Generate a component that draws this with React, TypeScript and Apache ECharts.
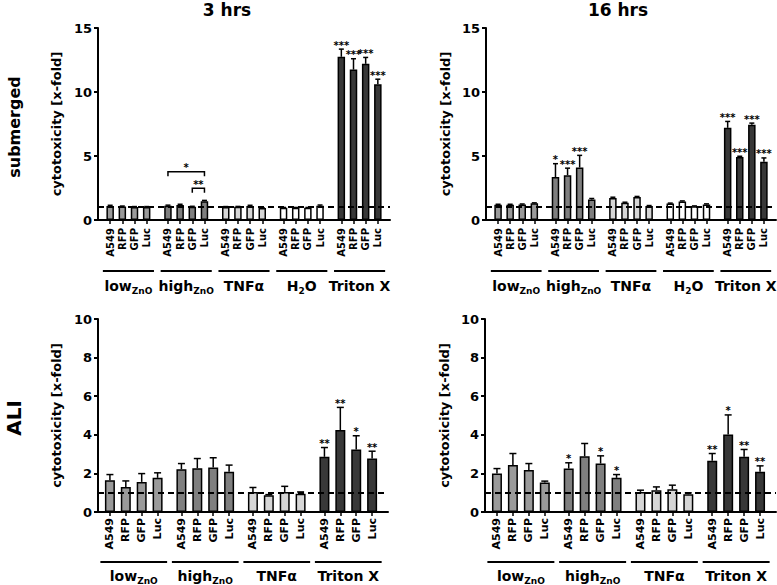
import React, { useEffect, useRef } from 'react';
import * as echarts from 'echarts';

const FONT = 'DejaVu Sans';

const cellLines = ['A549', 'RFP', 'GFP', 'Luc'];
const submergedGroups = ['low', 'high', 'TNF', 'H2O', 'Triton'];
const aliGroups = ['low', 'high', 'TNF', 'Triton'];

const groupLabelRich: Record<string, string> = {
  low: '{m|low}{s|ZnO}',
  high: '{m|high}{s|ZnO}',
  TNF: '{m|TNFα}',
  H2O: '{m|H}{s|2}{m|O}',
  Triton: '{m|Triton X}',
};
const groupFill: Record<string, string> = {
  low: '#9a9a9a',
  high: '#7f7f7f',
  TNF: '#d6d6d6',
  H2O: '#ffffff',
  Triton: '#383838',
};

// submerged, 3 hrs
const sub3Mean = [1.10, 1.05, 1.02, 1.02, 1.12, 1.18, 1.03, 1.47, 1.02, 1.03, 1.10, 0.93, 0.95, 0.95, 0.95, 1.12, 12.75, 11.75, 12.20, 10.60];
const sub3Err = [0.05, 0.04, 0.03, 0.03, 0.04, 0.05, 0.04, 0.06, 0.03, 0.03, 0.05, 0.03, 0.03, 0.03, 0.03, 0.05, 0.60, 0.85, 0.50, 0.40];
const sub3Stars = ['', '', '', '', '', '', '', '', '', '', '', '', '', '', '', '', '***', '***', '***', '***'];
const sub3BracketFrom = [4, 6];
const sub3BracketTo = [7, 7];
const sub3BracketY = [3.77, 2.48];
const sub3BracketLabel = ['*', '**'];

// submerged, 16 hrs
const sub16Mean = [1.20, 1.20, 1.22, 1.30, 3.35, 3.50, 4.10, 1.60, 1.72, 1.35, 1.80, 1.10, 1.28, 1.45, 1.07, 1.22, 7.20, 4.93, 7.45, 4.55];
const sub16Err = [0.03, 0.03, 0.03, 0.04, 1.05, 0.55, 0.95, 0.08, 0.06, 0.04, 0.04, 0.03, 0.04, 0.04, 0.03, 0.04, 0.50, 0.05, 0.12, 0.30];
const sub16Stars = ['', '', '', '', '*', '***', '***', '', '', '', '', '', '', '', '', '', '***', '***', '***', '***'];

// ALI, 3 hrs
const ali3Mean = [1.65, 1.30, 1.56, 1.77, 2.22, 2.27, 2.30, 2.08, 1.04, 0.87, 1.04, 0.95, 2.86, 4.25, 3.24, 2.77];
const ali3Err = [0.29, 0.31, 0.43, 0.26, 0.29, 0.50, 0.51, 0.35, 0.23, 0.03, 0.29, 0.09, 0.48, 1.17, 0.71, 0.38];
const ali3Stars = ['', '', '', '', '', '', '', '', '', '', '', '', '**', '**', '*', '**'];

// ALI, 16 hrs
const ali16Mean = [1.99, 2.43, 2.17, 1.53, 2.25, 2.89, 2.51, 1.77, 1.04, 1.13, 1.18, 0.92, 2.65, 4.02, 2.86, 2.08];
const ali16Err = [0.26, 0.60, 0.34, 0.07, 0.30, 0.66, 0.40, 0.17, 0.09, 0.17, 0.21, 0.07, 0.38, 1.01, 0.38, 0.31];
const ali16Stars = ['', '', '', '', '*', '', '*', '*', '', '', '', '', '**', '*', '**', '**'];

const titles = ['3 hrs', '16 hrs'];
const rowLabels = ['submerged', 'ALI'];
const yName = 'cytotoxicity [x-fold]';

type Panel = {
  grid: { left: number; top: number; width: number; height: number };
  groups: string[];
  mean: number[];
  err: number[];
  stars: string[];
  yMax: number;
  yInterval: number;
  nCat: number;
  first: number;
  groupStep: number;
  barStep: number;
  barWidth: number;
  capHalf: number;
  labelFont: number;
  labelMargin: number;
  underlineDy: number;
  textDy: number;
  nameGap: number;
  brackets?: boolean;
};

const panels: Panel[] = [
  {
    grid: { left: 98, top: 28, width: 292, height: 192 },
    groups: submergedGroups, mean: sub3Mean, err: sub3Err, stars: sub3Stars,
    yMax: 15, yInterval: 5, nCat: 97, first: 4, groupStep: 19, barStep: 4,
    barWidth: 7.5, capHalf: 2.5, labelFont: 10, labelMargin: 8, underlineDy: 51, textDy: 66, nameGap: 35,
    brackets: true,
  },
  {
    grid: { left: 486, top: 28, width: 290, height: 192 },
    groups: submergedGroups, mean: sub16Mean, err: sub16Err, stars: sub16Stars,
    yMax: 15, yInterval: 5, nCat: 97, first: 4, groupStep: 19, barStep: 4,
    barWidth: 7.5, capHalf: 2.5, labelFont: 10, labelMargin: 8, underlineDy: 51, textDy: 66, nameGap: 34,
  },
  {
    grid: { left: 98, top: 319, width: 290, height: 193 },
    groups: aliGroups, mean: ali3Mean, err: ali3Err, stars: ali3Stars,
    yMax: 10, yInterval: 2, nCat: 74, first: 3, groupStep: 18, barStep: 4,
    barWidth: 10, capHalf: 3.5, labelFont: 11, labelMargin: 6, underlineDy: 50, textDy: 64, nameGap: 35,
  },
  {
    grid: { left: 485, top: 319, width: 291, height: 193 },
    groups: aliGroups, mean: ali16Mean, err: ali16Err, stars: ali16Stars,
    yMax: 10, yInterval: 2, nCat: 74, first: 3, groupStep: 18, barStep: 4,
    barWidth: 10, capHalf: 3.5, labelFont: 11, labelMargin: 6, underlineDy: 50, textDy: 64, nameGap: 34,
  },
];

function posOf(p: Panel, k: number) {
  const g = Math.floor(k / 4);
  const b = k % 4;
  return p.first + p.groupStep * g + p.barStep * b;
}

function buildOption() {
  const grid: any[] = [];
  const xAxis: any[] = [];
  const yAxis: any[] = [];
  const series: any[] = [];

  panels.forEach((p, i) => {
    grid.push({ ...p.grid, containLabel: false });
    const labelsAt: string[] = Array.from({ length: p.nCat }, () => '');
    p.mean.forEach((_, k) => {
      labelsAt[posOf(p, k)] = cellLines[k % 4];
    });
    xAxis.push({
      type: 'category',
      gridIndex: i,
      boundaryGap: false,
      data: labelsAt.map((_, j) => String(j)),
      axisLine: { lineStyle: { color: '#000', width: 2 } },
      axisTick: {
        show: true,
        length: 4,
        lineStyle: { color: '#000', width: 1.5 },
        interval: (idx: number) => labelsAt[idx] !== '',
      },
      axisLabel: {
        interval: (idx: number) => labelsAt[idx] !== '',
        formatter: (v: string) => labelsAt[Number(v)],
        rotate: 90,
        margin: p.labelMargin,
        color: '#000',
        fontFamily: FONT,
        fontWeight: 'bold',
        fontSize: p.labelFont,
      },
      splitLine: { show: false },
    });
    yAxis.push({
      type: 'value',
      gridIndex: i,
      min: 0,
      max: p.yMax,
      interval: p.yInterval,
      name: yName,
      nameLocation: 'middle',
      nameGap: p.nameGap,
      nameTextStyle: { color: '#000', fontFamily: FONT, fontWeight: 'bold', fontSize: 13 },
      axisLine: { show: true, lineStyle: { color: '#000', width: 2 } },
      axisTick: { show: true, length: 4, lineStyle: { color: '#000', width: 2 } },
      axisLabel: { color: '#000', fontFamily: FONT, fontWeight: 'bold', fontSize: 13, margin: 6 },
      splitLine: { show: false },
    });

    // dashed reference line at 1
    series.push({
      type: 'line',
      xAxisIndex: i,
      yAxisIndex: i,
      data: [],
      z: 1,
      silent: true,
      markLine: {
        silent: true,
        symbol: 'none',
        label: { show: false },
        lineStyle: { color: '#000', type: [6, 4], width: 2 },
        data: [{ yAxis: 1 }],
      },
    });

    series.push({
      type: 'bar',
      xAxisIndex: i,
      yAxisIndex: i,
      barWidth: p.barWidth,
      z: 2,
      data: p.mean.map((m, k) => ({
        value: [posOf(p, k), m],
        itemStyle: {
          color: groupFill[p.groups[Math.floor(k / 4)]],
          borderColor: '#000',
          borderWidth: 1.5,
        },
      })),
    });

    series.push({
      type: 'custom',
      xAxisIndex: i,
      yAxisIndex: i,
      z: 3,
      clip: false,
      encode: { x: 0, y: [1, 2] },
      data: p.mean.map((m, k) => [posOf(p, k), m, m + p.err[k]]),
      renderItem: (params: any, api: any) => {
        const x = api.value(0);
        const top = api.coord([x, api.value(1)]);
        const cap = api.coord([x, api.value(2)]);
        const star = p.stars[params.dataIndex];
        const children: any[] = [
          { type: 'line', shape: { x1: top[0], y1: top[1], x2: cap[0], y2: cap[1] }, style: { stroke: '#000', lineWidth: 1.5 } },
          { type: 'line', shape: { x1: cap[0] - p.capHalf, y1: cap[1], x2: cap[0] + p.capHalf, y2: cap[1] }, style: { stroke: '#000', lineWidth: 1.5 } },
        ];
        if (star) {
          children.push({
            type: 'text',
            style: {
              text: star, x: cap[0], y: cap[1] - 4, align: 'center', verticalAlign: 'middle',
              font: `bold 10px "${FONT}"`, fill: '#000',
            },
          });
        }
        return { type: 'group', children };
      },
    });

    // group underline + labels
    series.push({
      type: 'custom',
      xAxisIndex: i,
      yAxisIndex: i,
      z: 3,
      clip: false,
      silent: true,
      encode: { x: [0, 1], y: 2 },
      data: p.groups.map((_, g) => [posOf(p, g * 4), posOf(p, g * 4 + 3), 0]),
      renderItem: (params: any, api: any) => {
        const a = api.coord([api.value(0), 0]);
        const b = api.coord([api.value(1), 0]);
        const s = (b[0] - a[0]) / 3;
        const name = p.groups[params.dataIndex];
        return {
          type: 'group',
          children: [
            {
              type: 'line',
              shape: { x1: a[0] - 0.6 * s, y1: a[1] + p.underlineDy, x2: b[0] + 0.6 * s, y2: a[1] + p.underlineDy },
              style: { stroke: '#000', lineWidth: 2 },
            },
            {
              type: 'text',
              style: {
                text: groupLabelRich[name],
                x: (a[0] + b[0]) / 2,
                y: a[1] + p.textDy,
                align: 'center',
                verticalAlign: 'middle',
                rich: {
                  m: { fontSize: 14, fontWeight: 'bold', fontFamily: FONT, fill: '#000', lineHeight: 18 },
                  s: { fontSize: 9, fontWeight: 'bold', fontFamily: FONT, fill: '#000', lineHeight: 10, verticalAlign: 'bottom' },
                },
              },
            },
          ],
        };
      },
    });

    if (p.brackets) {
      series.push({
        type: 'custom',
        xAxisIndex: i,
        yAxisIndex: i,
        z: 3,
        clip: false,
        silent: true,
        encode: { x: [0, 1], y: 2 },
        data: sub3BracketFrom.map((f, j) => [posOf(p, f), posOf(p, sub3BracketTo[j]), sub3BracketY[j]]),
        renderItem: (params: any, api: any) => {
          const a = api.coord([api.value(0), api.value(2)]);
          const b = api.coord([api.value(1), api.value(2)]);
          return {
            type: 'group',
            children: [
              {
                type: 'polyline',
                shape: { points: [[a[0], a[1] + 4.5], [a[0], a[1]], [b[0], b[1]], [b[0], b[1] + 4.5]] },
                style: { stroke: '#000', lineWidth: 1.5, fill: 'none' },
              },
              {
                type: 'text',
                style: {
                  text: sub3BracketLabel[params.dataIndex],
                  x: (a[0] + b[0]) / 2, y: a[1] - 4, align: 'center', verticalAlign: 'middle',
                  font: `bold 10px "${FONT}"`, fill: '#000',
                },
              },
            ],
          };
        },
      });
    }
  });

  const graphic: any[] = [
    { type: 'text', x: 227, y: 10, style: { text: titles[0], align: 'center', verticalAlign: 'middle', font: `bold 17px "${FONT}"`, fill: '#000' } },
    { type: 'text', x: 618, y: 10, style: { text: titles[1], align: 'center', verticalAlign: 'middle', font: `bold 17px "${FONT}"`, fill: '#000' } },
    { type: 'text', x: 14, y: 127, rotation: Math.PI / 2, style: { text: rowLabels[0], align: 'center', verticalAlign: 'middle', font: `bold 16px "${FONT}"`, fill: '#000' } },
    { type: 'text', x: 14, y: 418, rotation: Math.PI / 2, style: { text: rowLabels[1], align: 'center', verticalAlign: 'middle', font: `bold 20px "${FONT}"`, fill: '#000' } },
  ];

  return {
    animation: false,
    backgroundColor: '#fff',
    grid,
    xAxis,
    yAxis,
    series,
    graphic,
  };
}

export default function App() {
  const ref = useRef<HTMLDivElement>(null);
  useEffect(() => {
    if (!ref.current) return;
    const chart = echarts.init(ref.current, undefined, { renderer: 'svg' });
    chart.setOption(buildOption() as any);
    return () => chart.dispose();
  }, []);
  return (
    <div
      ref={ref}
      style={{ position: 'absolute', left: 0, top: 0, width: 777, height: 585, background: '#fff' }}
    />
  );
}
